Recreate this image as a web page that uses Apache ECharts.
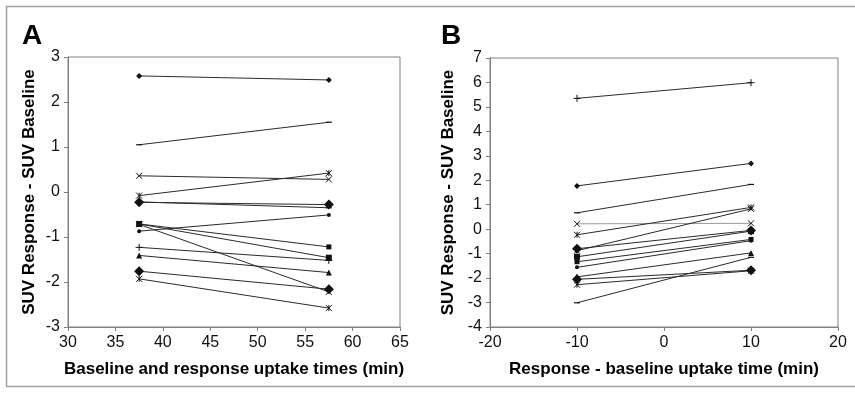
<!DOCTYPE html>
<html>
<head>
<meta charset="utf-8">
<script src="https://cdn.jsdelivr.net/npm/echarts@6/dist/echarts.min.js"></script>
<style>
  html, body { margin: 0; padding: 0; background: #fff; }
  #chart { width: 855px; height: 396px; }
</style>
</head>
<body>
<div id="chart"></div>
<script>
// panel A: baseline vs response uptake time (min)
const timesA = [37.5, 57.5];
const baselineA = [2.58, 1.05, 0.36, -0.08, -0.23, -0.22, -0.87, -0.71, -0.71, -0.72, -1.23, -1.41, -1.76, -1.93];
const responseA = [2.49, 1.55, 0.28, 0.42, -0.28, -0.35, -0.51, -1.22, -1.46, -2.22, -1.52, -1.79, -2.16, -2.58];

// panel B: response - baseline uptake time (min)
const timesB = [-10, 10];
const baselineB = [1.77, 0.67, 0.22, -0.23, -0.80, -3.01, -1.56, -1.33, -1.13, -0.88, 5.35, -1.95, -2.05, -2.27];
const responseB = [2.69, 1.83, 0.24, 0.89, -0.05, -1.15, -0.47, -0.42, -0.08, 0.83, 5.99, -0.97, -1.68, -1.70];

// marker per patient (same order in both panels)
const markers = ['smallDiamond', 'dash', 'cross', 'star', 'bigDiamond', 'dash', 'circle', 'square',
                 'bigSquare', 'cross', 'plus', 'triangle', 'bigDiamond', 'star'];

const FONT = 'Liberation Sans, Arial, sans-serif';
const INK = '#111';

const markerStyle = {
    smallDiamond: { symbol: 'diamond', symbolSize: 6 },
    bigDiamond: { symbol: 'diamond', symbolSize: 10 },
    square: { symbol: 'rect', symbolSize: 5 },
    bigSquare: { symbol: 'rect', symbolSize: 6 },
    triangle: { symbol: 'triangle', symbolSize: 6 },
    circle: { symbol: 'circle', symbolSize: 4 },
    dash: { symbol: 'rect', symbolSize: [6, 1.2] },
    cross: { symbol: 'path://M0,0L10,10M10,0L0,10', symbolSize: 6, stroke: true },
    star: { symbol: 'path://M0,0L10,10M10,0L0,10M5,0L5,10', symbolSize: 6, stroke: true },
    plus: { symbol: 'path://M5,0L5,10M0,5L10,5', symbolSize: 7, stroke: true }
};

function makeSeries(times, start, end, axisIndex) {
    return start.map((v, i) => {
        const m = markerStyle[markers[i]];
        // the flat "x" line in panel B is drawn light grey in the original
        const light = axisIndex === 1 && i === 2;
        return {
            type: 'line',
            xAxisIndex: axisIndex,
            yAxisIndex: axisIndex,
            data: [[times[0], v], [times[1], end[i]]],
            symbol: m.symbol,
            symbolSize: m.symbolSize,
            showSymbol: true,
            silent: true,
            lineStyle: { color: light ? '#9a9a9a' : '#2a2a2a', width: 1 },
            itemStyle: {
                color: INK,
                borderColor: INK,
                borderWidth: m.stroke ? 1 : 0
            }
        };
    });
}

function valueAxis(gridIndex, min, max, interval, name, nameGap, isX) {
    return {
        type: 'value',
        gridIndex: gridIndex,
        min: min,
        max: max,
        interval: interval,
        name: name,
        nameLocation: 'middle',
        nameGap: nameGap,
        nameRotate: isX ? 0 : 90,
        nameTextStyle: { fontFamily: FONT, fontWeight: 'bold', fontSize: 17, color: '#000' },
        axisLine: { show: true, onZero: false, lineStyle: { color: '#808080', width: 1 } },
        axisTick: { show: true, inside: false, length: 4, lineStyle: { color: '#808080' } },
        axisLabel: { fontFamily: FONT, fontSize: 16, color: '#111', margin: 8 },
        splitLine: { show: false }
    };
}

const chart = echarts.init(document.getElementById('chart'), null, { renderer: 'canvas' });

const option = {
    animation: false,
    backgroundColor: '#fff',
    grid: [
        { left: 68, top: 57, width: 332, height: 270, show: true, borderColor: '#808080', borderWidth: 1 },
        { left: 490, top: 58, width: 348, height: 269, show: true, borderColor: '#808080', borderWidth: 1 }
    ],
    xAxis: [
        valueAxis(0, 30, 65, 5, 'Baseline and response uptake times (min)', 34, true),
        valueAxis(1, -20, 20, 10, 'Response - baseline uptake time (min)', 34, true)
    ],
    yAxis: [
        valueAxis(0, -3, 3, 1, 'SUV Response - SUV Baseline', 30, false),
        valueAxis(1, -4, 7, 1, 'SUV Response - SUV Baseline', 33, false)
    ],
    graphic: [
        {
            type: 'rect',
            shape: { x: 6.5, y: 6.5, width: 850, height: 380 },
            style: { fill: 'none', stroke: '#a0a0a0', lineWidth: 1.5 }
        },
        {
            type: 'text', left: 22, top: 22,
            style: { text: 'A', font: 'bold 28px ' + FONT, fill: '#000' }
        },
        {
            type: 'text', left: 441, top: 22,
            style: { text: 'B', font: 'bold 28px ' + FONT, fill: '#000' }
        }
    ],
    series: makeSeries(timesA, baselineA, responseA, 0)
        .concat(makeSeries(timesB, baselineB, responseB, 1))
};

chart.setOption(option);
</script>
</body>
</html>
